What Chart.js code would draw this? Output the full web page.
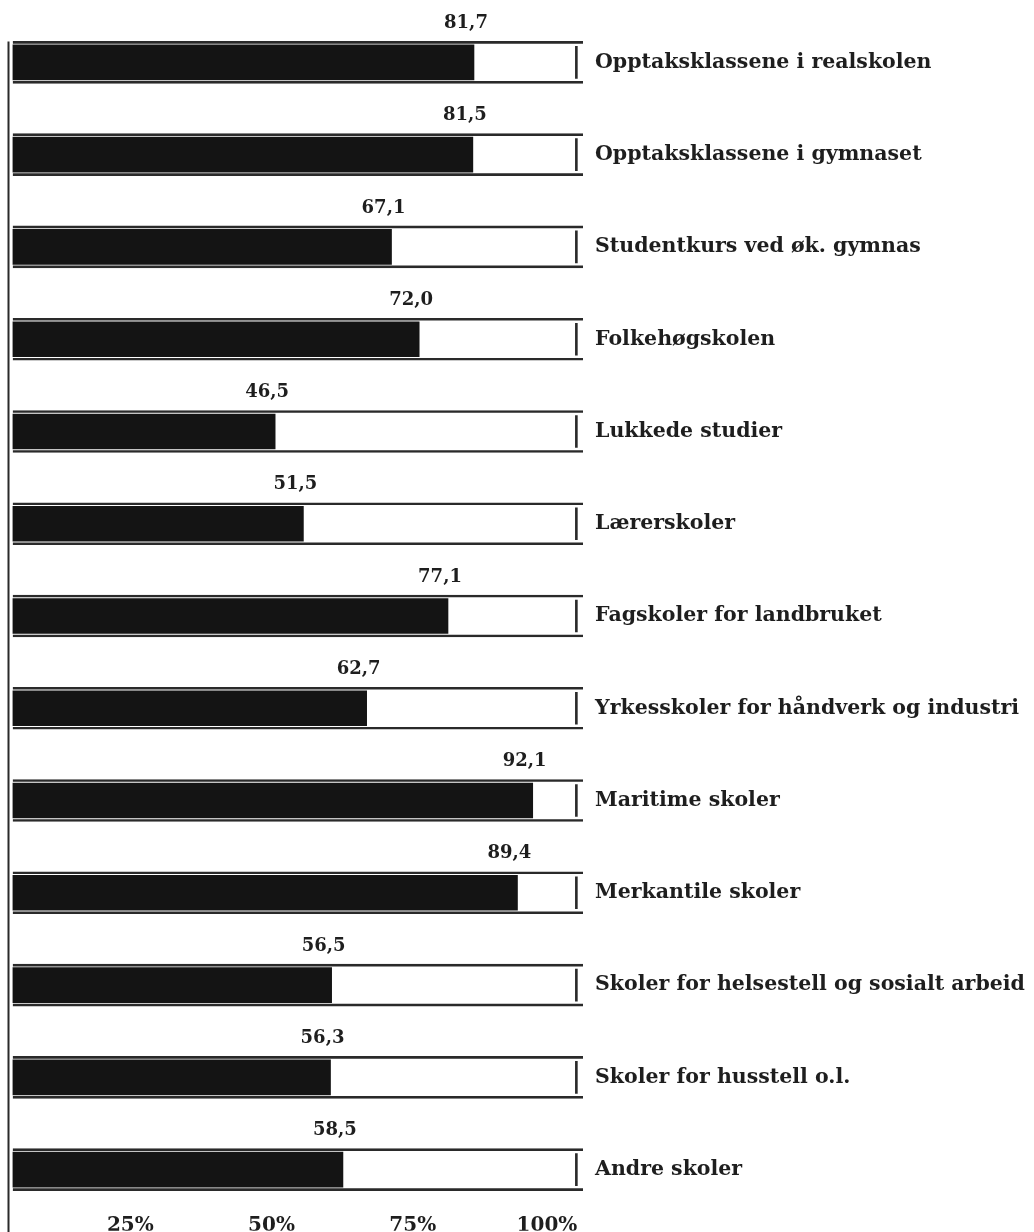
<!DOCTYPE html>
<html>
<head>
<meta charset="utf-8">
<title>Andel elever</title>
<script src="https://cdn.jsdelivr.net/npm/chart.js@4.4.0/dist/chart.umd.min.js"></script>
<style>
  html, body { margin: 0; padding: 0; background: #fff; }
  #wrap { width: 1034px; height: 1232px; }
</style>
</head>
<body>
<div id="wrap"><canvas id="chart" width="1034" height="1232"></canvas></div>
<script>
// Skoletyper (rekkefølge som i figuren, ovenfra og ned)
const categories = [
    'Opptaksklassene i realskolen',
    'Opptaksklassene i gymnaset',
    'Studentkurs ved øk. gymnas',
    'Folkehøgskolen',
    'Lukkede studier',
    'Lærerskoler',
    'Fagskoler for landbruket',
    'Yrkesskoler for håndverk og industri',
    'Maritime skoler',
    'Merkantile skoler',
    'Skoler for helsestell og sosialt arbeid',
    'Skoler for husstell o.l.',
    'Andre skoler'
];

// Prosent
const values = [81.7, 81.5, 67.1, 72.0, 46.5, 51.5, 77.1, 62.7, 92.1, 89.4, 56.5, 56.3, 58.5];

// Ramme rundt hver søyle (full skala) og strek ved 100 %
const frameValues = categories.map(() => 101);
const endMark = categories.map(() => [99.65, 100]);

const tickValues = [25, 50, 75, 100];

const ink = '#1e1e1e';
const serif = '"DejaVu Serif", "Liberation Serif", serif';

function fmt(v) {
    return v.toFixed(1).replace('.', ',');
}

// venstre strek + tallene over søylene
const extras = {
    id: 'extras',
    afterDatasetsDraw(chart) {
        const ctx = chart.ctx;
        const xs = chart.scales.x;
        const ys = chart.scales.y;
        const lx = xs.getPixelForValue(0) - 4;
        ctx.save();
        ctx.strokeStyle = '#2a2a2a';
        ctx.lineWidth = 2;
        ctx.beginPath();
        ctx.moveTo(lx, ys.getPixelForValue(0) - 21);
        ctx.lineTo(lx, chart.height);
        ctx.stroke();

        const meta = chart.getDatasetMeta(1);
        ctx.font = 'bold 18px ' + serif;
        ctx.fillStyle = ink;
        ctx.textAlign = 'center';
        ctx.textBaseline = 'middle';
        meta.data.forEach((bar, i) => {
            ctx.fillText(fmt(values[i]), bar.x - 8, bar.y - 39);
        });
        ctx.restore();
    }
};

new Chart(document.getElementById('chart'), {
    type: 'bar',
    data: {
        labels: categories,
        datasets: [
            {
                label: 'ramme',
                data: frameValues,
                backgroundColor: 'rgba(0,0,0,0)',
                borderColor: '#2a2a2a',
                borderWidth: { top: 2, bottom: 2, left: 0, right: 0 },
                borderSkipped: false,
                barThickness: 42,
                grouped: false
            },
            {
                label: 'andel',
                data: values,
                backgroundColor: '#141414',
                borderWidth: 0,
                barThickness: 35,
                grouped: false
            },
            {
                label: '100',
                data: endMark,
                backgroundColor: '#2a2a2a',
                borderWidth: 0,
                barThickness: 32,
                grouped: false
            }
        ]
    },
    options: {
        indexAxis: 'y',
        responsive: false,
        devicePixelRatio: 1,
        animation: false,
        layout: {
            padding: { top: 9.5, left: 12.5, right: 0, bottom: 0 }
        },
        plugins: {
            legend: { display: false },
            tooltip: { enabled: false }
        },
        scales: {
            x: {
                type: 'linear',
                position: 'bottom',
                min: 0,
                max: 101,
                grid: { display: false },
                border: { display: false },
                afterBuildTicks: scale => {
                    scale.ticks = tickValues.map(v => ({ value: v }));
                },
                afterFit: scale => { scale.height = 15; },
                ticks: {
                    align: 'end',
                    autoSkip: false,
                    maxRotation: 0,
                    padding: -10,
                    color: ink,
                    font: { family: serif, size: 20, weight: 'bold' },
                    callback: v => v + '%'
                }
            },
            y: {
                type: 'category',
                position: 'right',
                grid: { display: false },
                border: { display: false },
                afterFit: scale => { scale.width = 451; },
                ticks: {
                    padding: 4,
                    color: ink,
                    font: { family: serif, size: 20.5, weight: 'bold' }
                }
            }
        }
    },
    plugins: [extras]
});
</script>
</body>
</html>
